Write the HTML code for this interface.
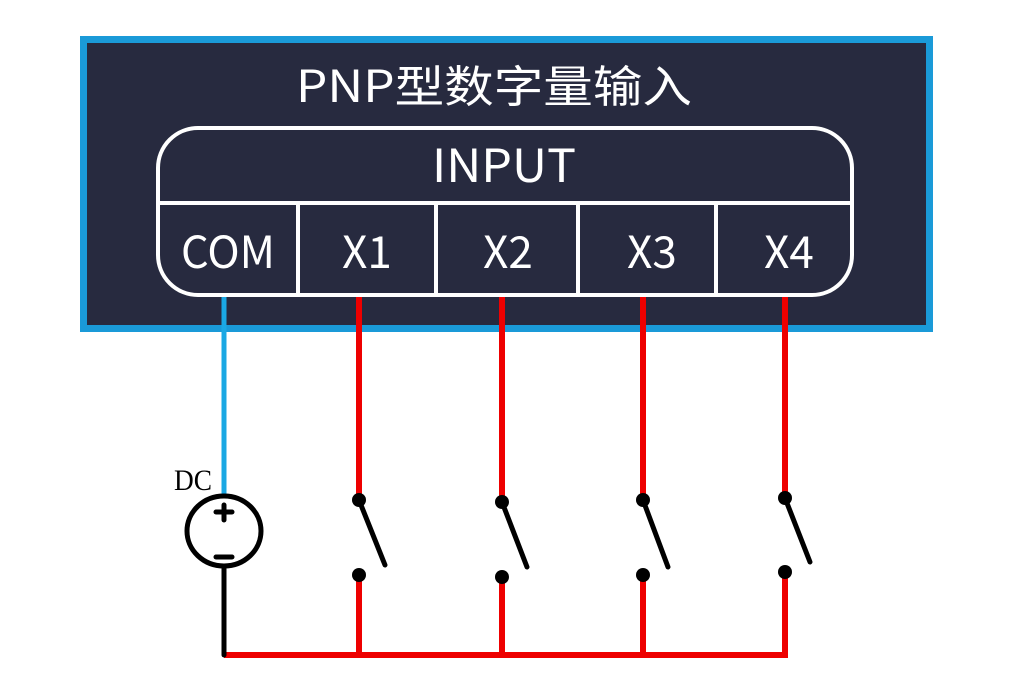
<!DOCTYPE html>
<html><head><meta charset="utf-8"><style>
html,body{margin:0;padding:0;background:#fff;}
svg{display:block;}
text.w{font-family:"Noto Sans CJK SC",sans-serif;fill:#fff;}
</style></head><body>
<svg width="1021" height="688" viewBox="0 0 1021 688" xmlns="http://www.w3.org/2000/svg">
<rect x="0" y="0" width="1021" height="688" fill="#fff"/>
<rect x="83.5" y="39.5" width="846" height="289" fill="#272a3f" stroke="#1a9ad8" stroke-width="7"/>
<text class="w" x="494" y="102" font-size="44" text-anchor="middle" textLength="396" lengthAdjust="spacingAndGlyphs">PNP型数字量输入</text>
<path d="M198,128 H812 A40,40 0 0 1 852,168 V255 A40,40 0 0 1 812,295 H198 A40,40 0 0 1 158,255 V168 A40,40 0 0 1 198,128 Z" fill="#272a3f" stroke="#fff" stroke-width="4"/>
<line x1="158" y1="203" x2="852" y2="203" stroke="#fff" stroke-width="4"/>
<g stroke="#fff" stroke-width="4">
<line x1="298" y1="203" x2="298" y2="295"/>
<line x1="436" y1="203" x2="436" y2="295"/>
<line x1="578" y1="203" x2="578" y2="295"/>
<line x1="716" y1="203" x2="716" y2="295"/>
</g>
<text class="w" x="504" y="182" font-size="46" text-anchor="middle" textLength="144" lengthAdjust="spacingAndGlyphs">INPUT</text>
<g font-size="44" text-anchor="middle">
<text class="w" x="228" y="268" textLength="94" lengthAdjust="spacingAndGlyphs">COM</text>
<text class="w" x="367" y="268">X1</text>
<text class="w" x="508" y="268">X2</text>
<text class="w" x="652" y="268">X3</text>
<text class="w" x="789" y="268">X4</text>
</g>
<line x1="224" y1="297" x2="224" y2="495" stroke="#1aa8e4" stroke-width="5"/>
<g stroke="#ee0000" stroke-width="6" fill="none">
<line x1="359" y1="297" x2="359" y2="500"/>
<line x1="502" y1="297" x2="502" y2="502"/>
<line x1="643" y1="297" x2="643" y2="500"/>
<line x1="785" y1="297" x2="785" y2="498"/>
<line x1="359" y1="576" x2="359" y2="655"/>
<line x1="502" y1="578" x2="502" y2="655"/>
<line x1="643" y1="576" x2="643" y2="655"/>
<line x1="785" y1="573" x2="785" y2="655"/>
<line x1="224" y1="655" x2="788" y2="655"/>
</g>
<g stroke="#000" stroke-width="5" fill="none" stroke-linecap="round">
<ellipse cx="224" cy="531" rx="37" ry="35"/>
<line x1="224" y1="566" x2="224" y2="655"/>
<line x1="224" y1="505" x2="224" y2="520"/>
<line x1="216" y1="512" x2="232" y2="512"/>
<line x1="216" y1="557" x2="232" y2="557"/>
<line x1="359" y1="500" x2="385" y2="565"/>
<line x1="502" y1="502" x2="527" y2="567"/>
<line x1="643" y1="500" x2="668" y2="567"/>
<line x1="785" y1="498" x2="810" y2="562"/>
</g>
<g fill="#000">
<circle cx="359" cy="500" r="7"/><circle cx="359" cy="575" r="7"/>
<circle cx="502" cy="502" r="7"/><circle cx="502" cy="577" r="7"/>
<circle cx="643" cy="500" r="7"/><circle cx="643" cy="575" r="7"/>
<circle cx="785" cy="498" r="7"/><circle cx="785" cy="572" r="7"/>
</g>
<text x="193" y="490" font-size="30" text-anchor="middle" fill="#000" font-family="Liberation Serif, serif" textLength="38" lengthAdjust="spacingAndGlyphs">DC</text>
</svg>
</body></html>
